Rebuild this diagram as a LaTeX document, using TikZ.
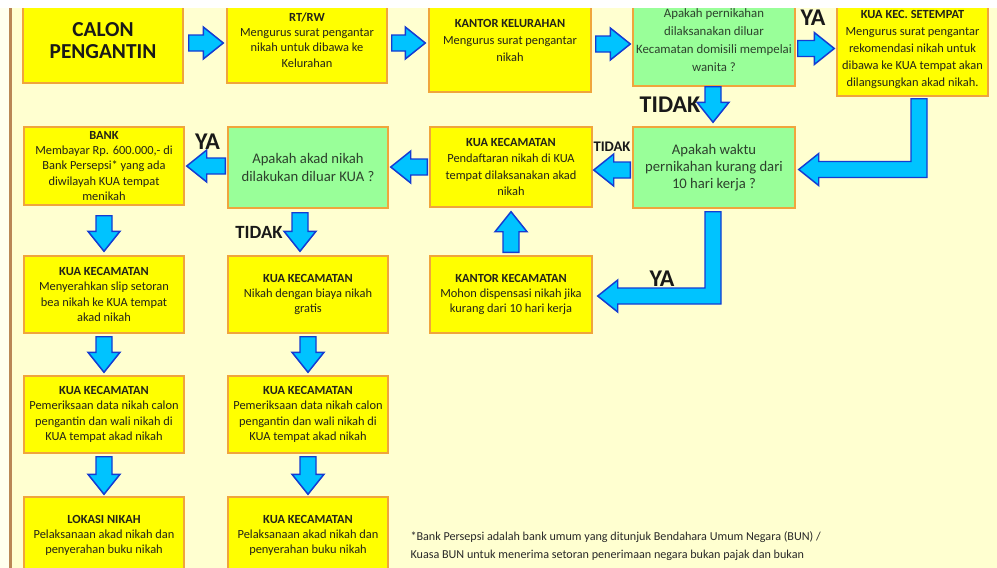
\documentclass[tikz,border=0pt]{standalone}
\usepackage{fontspec}
\setmainfont{Carlito}
\usetikzlibrary{calc}

\tikzset{every picture/.style={line width=0.75pt}}
\tikzset{
  kotak/.style={draw={rgb, 255:red, 240; green, 165; blue, 60}, line width=1.1pt,
    fill={rgb, 255:red, 255; green, 255; blue, 0}, align=center, inner sep=0pt,
    minimum width=120pt, minimum height=57.75pt,
    text={rgb, 255:red, 35; green, 35; blue, 25}, font=\fontsize{9.3}{11.5}\selectfont},
  tanya/.style={kotak, fill={rgb, 255:red, 153; green, 255; blue, 153},
    text={rgb, 255:red, 45; green, 65; blue, 45}},
  jawab/.style={font=\fontsize{18}{20}\selectfont\bfseries, inner sep=0pt,
    text={rgb, 255:red, 25; green, 25; blue, 25}},
  panah/.style={draw={rgb, 255:red, 20; green, 60; blue, 210}, line width=1.1pt,
    fill={rgb, 255:red, 0; green, 195; blue, 255}, line join=miter,
    to path={let \p1=(\tikztostart), \p2=(\tikztotarget), \p3=($(\p2)!15pt!(\p1)$) in
      ($(\p1)!6pt!90:(\p2)$) -- ($(\p3)!6pt!90:(\p2)$) -- ($(\p3)!12pt!90:(\p2)$) -- (\p2)
      -- ($(\p3)!12pt!-90:(\p2)$) -- ($(\p3)!6pt!-90:(\p2)$) -- ($(\p1)!6pt!-90:(\p2)$) -- cycle}},
  panahsiku/.style={panah, to path={let \p1=(\tikztostart), \p2=(\tikztotarget) in
      ({\x1-6pt},\y1) -- ({\x1+6pt},\y1) -- ({\x1+6pt},{\y2-6pt}) -- ({\x2+15pt},{\y2-6pt})
      -- ({\x2+15pt},{\y2-12pt}) -- (\p2) -- ({\x2+15pt},{\y2+12pt}) -- ({\x2+15pt},{\y2+6pt})
      -- ({\x1-6pt},{\y2+6pt}) -- cycle}},
}

\begin{document}
\begin{tikzpicture}[x=0.75pt,y=-0.75pt]
	\useasboundingbox (0,0) rectangle (997,568);
	%Background
	\fill [color={rgb, 255:red, 255; green, 255; blue, 238}] (0,0) rectangle (997,568);
	\fill [color={rgb, 255:red, 255; green, 255; blue, 208}] (12,8) rectangle (997,568);
	\fill [white] (0,0) rectangle (997,8);
	\draw [color={rgb, 255:red, 185; green, 135; blue, 85}, line width=2.25pt] (10.5,8) -- (10.5,568);

	\begin{scope}
	\clip (12,8) rectangle (997,568);

	%Shape: Rectangle -- row 1
	\node [kotak, minimum height=63pt, font=\fontsize{16}{16.5}\selectfont\bfseries, text=black!90] (calon) at (103,41) {CALON\\PENGANTIN};
	\node [kotak, minimum height=64.5pt] (rtrw) at (307,40) {\textbf{RT/RW}\\Mengurus surat pengantar\\nikah untuk dibawa ke\\Kelurahan};
	\node [kotak, minimum width=121.5pt, minimum height=77.25pt, font=\fontsize{9.3}{12.4}\selectfont] (kelurahan) at (510,40.5) {\textbf{KANTOR KELURAHAN}\\Mengurus surat pengantar\\nikah};
	\node [tanya, minimum width=121.5pt, minimum height=69pt, font=\fontsize{9.6}{13.5}\selectfont] (tanya1) at (714,40) {Apakah pernikahan\\dilaksanakan diluar\\Kecamatan domisili mempelai\\wanita ?};
	\node [kotak, minimum width=113.25pt, minimum height=69.75pt, font=\fontsize{9.3}{12.6}\selectfont] (setempat) at (912.5,49.5) {\textbf{KUA KEC. SETEMPAT}\\Mengurus surat pengantar\\rekomendasi nikah untuk\\dibawa ke KUA tempat akan\\dilangsungkan akad nikah.};

	%Shape: Rectangle -- row 2
	\node [kotak, minimum height=58.5pt, font=\fontsize{9.3}{11.3}\selectfont] (bank) at (104,166) {\textbf{BANK}\\Membayar Rp. 600.000,- di\\Bank Persepsi* yang ada\\diwilayah KUA tempat\\menikah};
	\node [tanya, minimum height=60.75pt, font=\fontsize{11}{13}\selectfont] (tanya3) at (308,167.5) {Apakah akad nikah\\dilakukan diluar KUA ?};
	\node [kotak, minimum width=121.5pt, minimum height=60pt, font=\fontsize{9.3}{12.2}\selectfont] (daftar) at (511,167) {\textbf{KUA KECAMATAN}\\Pendaftaran nikah di KUA\\tempat dilaksanakan akad\\nikah};
	\node [tanya, minimum width=121.5pt, minimum height=60.75pt, font=\fontsize{11}{13}\selectfont] (tanya2) at (714,167.5) {Apakah waktu\\pernikahan kurang dari\\10 hari kerja ?};

	%Shape: Rectangle -- row 3 to 5
	\node [kotak, minimum width=121.5pt] (kecamatan) at (511,294.5) {\textbf{KANTOR KECAMATAN}\\Mohon dispensasi nikah jika\\kurang dari 10 hari kerja};
	\node [kotak] (serah) at (104,294.5) {\textbf{KUA KECAMATAN}\\Menyerahkan slip setoran\\bea nikah ke KUA tempat\\akad nikah};
	\node [kotak] (gratis) at (308,294.5) {\textbf{KUA KECAMATAN}\\Nikah dengan biaya nikah\\gratis};
	\node [kotak] (periksa1) at (104,414.5) {\textbf{KUA KECAMATAN}\\Pemeriksaan data nikah calon\\pengantin dan wali nikah di\\KUA tempat akad nikah};
	\node [kotak] (periksa2) at (308,414.5) {\textbf{KUA KECAMATAN}\\Pemeriksaan data nikah calon\\pengantin dan wali nikah di\\KUA tempat akad nikah};
	\node [kotak] (lokasi) at (104,535.5) {\textbf{LOKASI NIKAH}\\Pelaksanaan akad nikah dan\\penyerahan buku nikah};
	\node [kotak] (laksana) at (308,535.5) {\textbf{KUA KECAMATAN}\\Pelaksanaan akad nikah dan\\penyerahan buku nikah};

	%Block Arrows
	\draw [panah] ($(calon.east)+(5,2)$) to ($(rtrw.west)+(-3,3)$);
	\draw [panah] ($(rtrw.east)+(4,3)$) to ($(kelurahan.west)+(-3,2.5)$);
	\draw [panah] ($(kelurahan.east)+(4,3.5)$) to ($(tanya1.west)+(-2,4)$);
	\draw [panah] ($(tanya1.east)+(2,8.5)$) to ($(setempat.west)+(-2,-1)$);
	\draw [panah] ($(tanya1.south)+(-1,0)$) to ($(tanya2.north)+(-1,-4)$);
	\draw [panahsiku] ($(setempat.south)+(6.5,2)$) to ($(tanya2.east)+(3,2)$);
	\draw [panah] ($(tanya2.west)+(-2,2.5)$) to ($(daftar.east)+(1,3)$);
	\draw [panah] ($(daftar.west)+(-2,0)$) to ($(tanya3.east)+(2,-0.5)$);
	\draw [panah] ($(tanya3.west)+(-2,-1.5)$) to ($(bank.east)+(2,0)$);
	\draw [panahsiku] ($(tanya2.south)+(-1,3)$) to ($(kecamatan.east)+(5,1.5)$);
	\draw [panah] ($(kecamatan.north)+(0,-3)$) to ($(daftar.south)+(0,4)$);
	\draw [panah] ($(bank.south)+(0,10)$) to ($(serah.north)+(0,-4)$);
	\draw [panah] ($(tanya3.south)+(-8,4)$) to ($(gratis.north)+(-8,-4)$);
	\draw [panah] ($(serah.south)+(0,3)$) to ($(periksa1.north)+(0,-3)$);
	\draw [panah] ($(periksa1.south)+(0,3)$) to ($(lokasi.north)+(0,-2)$);
	\draw [panah] ($(gratis.south)+(0,3)$) to ($(periksa2.north)+(0,-3)$);
	\draw [panah] ($(periksa2.south)+(0,3)$) to ($(laksana.north)+(0,-2)$);

	% Text Node
	\node [jawab] (ya1) at (813,18) {YA};
	\node [jawab] (tidak1) at (670,105) {TIDAK};
	\node [jawab, font=\fontsize{11}{12}\selectfont\bfseries] (tidak2) at (612,147) {TIDAK};
	\node [jawab] (ya2) at (207.5,141.5) {YA};
	\node [jawab, font=\fontsize{14}{16}\selectfont\bfseries] (tidak3) at (259,232) {TIDAK};
	\node [jawab] (ya3) at (662,279) {YA};
	% Text Node
	\node [anchor=north west, inner sep=0pt, align=left, font=\fontsize{9.1}{13.5}\selectfont, text={rgb, 255:red, 40; green, 40; blue, 40}] (catatan) at (410,531) {*Bank Persepsi adalah bank umum yang ditunjuk Bendahara Umum Negara (BUN) /\\Kuasa BUN untuk menerima setoran penerimaan negara bukan pajak dan bukan};
	\end{scope}
\end{tikzpicture}
\end{document}
